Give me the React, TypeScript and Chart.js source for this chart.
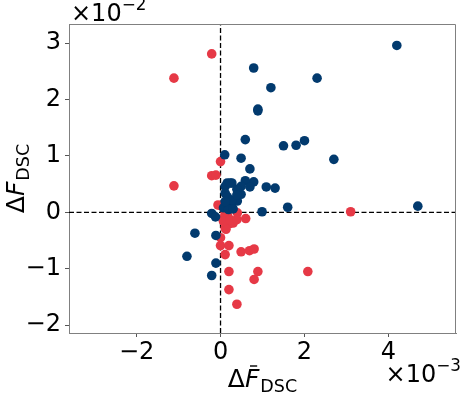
import React, { useEffect, useRef } from "react";
import { Chart, registerables } from "chart.js";

Chart.register(...registerables);

// x values in units of 1e-3, y values in units of 1e-2
const navyX = [4.20, 0.79, 2.30, 1.20, 0.89, 0.89, 0.59, 1.50, 1.80, 2.00, 0.10, 0.49, 2.70, 0.70, 0.79, 1.09, 1.30, 0.59, 0.70, 0.49, 0.49, 0.39, 0.40, 0.27, 0.16, 0.11, 0.11, 0.18, 0.11, 0.27, 0.99, 1.60, 4.70, -0.21, -0.12, -0.61, -0.11, -0.80, -0.11, -0.21, 0.27, 0.07, 0.19, 0.30, 0.16, 0.39, 0.11, 0.23];
const navyY = [2.96, 2.56, 2.38, 2.21, 1.83, 1.80, 1.29, 1.18, 1.19, 1.27, 1.02, 0.96, 0.94, 0.77, 0.54, 0.45, 0.43, 0.56, 0.45, 0.46, 0.32, 0.41, 0.20, 0.52, 0.52, 0.46, 0.34, 0.22, 0.10, 0.08, 0.01, 0.09, 0.11, -0.02, -0.08, -0.37, -0.41, -0.78, -0.90, -1.12, 0.22, 0.08, 0.05, 0.06, 0.28, 0.31, 0.19, 0.52];

const redX = [-0.21, -1.11, 3.10, 0.00, -0.21, -0.11, -1.11, 0.00, -0.06, 0.40, 0.60, 0.11, 0.16, 0.07, 0.16, 0.30, 0.11, 0.00, 0.00, 0.20, 0.11, 0.49, 0.69, 0.80, 0.20, 0.89, 0.80, 2.08, 0.20, 0.39, 0.22, 0.13, 0.07, 0.23, 0.39];
const redY = [2.81, 2.38, 0.01, 0.90, 0.65, 0.66, 0.47, 0.12, 0.13, -0.01, -0.11, -0.01, -0.04, -0.10, -0.18, -0.19, -0.28, -0.45, -0.59, -0.59, -0.75, -0.70, -0.68, -0.65, -1.05, -1.05, -1.19, -1.05, -1.37, -1.63, -0.20, -0.30, -0.16, -0.13, -0.13];

const xTicks = [-2, 0, 2, 4];
const yTicks = [-2, -1, 0, 1, 2, 3];
const xRange = [-3.61, 5.61];
const yRange = [-2.14, 3.34];
const xOffsetExp = "\u22123";
const yOffsetExp = "\u22122";

const NAVY = "#023a6e";
const RED = "#e63946";
const FONT = "'DejaVu Sans', sans-serif";
const TICK_SIZE = 24;
const LABEL_SIZE = 25;

const fmt = (v: number | string) => {
  const n = Number(v);
  return n < 0 ? "\u2212" + Math.abs(n) : String(n);
};

function drawMathLabel(ctx: CanvasRenderingContext2D, cx: number, cy: number, rotate: boolean, bar: boolean) {
  const S = LABEL_SIZE;
  const sub = S * 0.7;
  ctx.save();
  ctx.translate(cx, cy);
  if (rotate) ctx.rotate(-Math.PI / 2);
  ctx.fillStyle = "#000";
  ctx.textBaseline = "alphabetic";
  ctx.textAlign = "left";
  ctx.font = `${S}px ${FONT}`;
  const wD = ctx.measureText("\u0394").width;
  ctx.font = `italic ${S}px ${FONT}`;
  const wF = ctx.measureText("F").width;
  ctx.font = `${sub}px ${FONT}`;
  const wS = ctx.measureText("DSC").width;
  const total = wD + wF + 1 + wS;
  let x = -total / 2;
  ctx.font = `${S}px ${FONT}`;
  ctx.fillText("\u0394", x, 0);
  x += wD;
  ctx.font = `italic ${S}px ${FONT}`;
  ctx.fillText("F", x, 0);
  if (bar) {
    ctx.strokeStyle = "#000";
    ctx.lineWidth = 1.4;
    ctx.beginPath();
    const by = -S * 0.84;
    ctx.moveTo(x + wF * 0.35, by);
    ctx.lineTo(x + wF * 0.85, by);
    ctx.stroke();
  }
  x += wF + 1;
  ctx.font = `${sub}px ${FONT}`;
  ctx.fillText("DSC", x, S * 0.2);
  ctx.restore();
}

function drawOffset(ctx: CanvasRenderingContext2D, x: number, y: number, exp: string, alignRight: boolean) {
  const T = TICK_SIZE;
  const sup = T * 0.7;
  ctx.save();
  ctx.fillStyle = "#000";
  ctx.textBaseline = "alphabetic";
  ctx.textAlign = "left";
  ctx.font = `${T}px ${FONT}`;
  const w1 = ctx.measureText("\u00d710").width;
  ctx.font = `${sup}px ${FONT}`;
  const w2 = ctx.measureText(exp).width;
  let sx = alignRight ? x - (w1 + w2) : x;
  ctx.font = `${T}px ${FONT}`;
  ctx.fillText("\u00d710", sx, y);
  ctx.font = `${sup}px ${FONT}`;
  ctx.fillText(exp, sx + w1, y - T * 0.45);
  ctx.restore();
}

const decorPlugin = {
  id: "decor",
  beforeDatasetsDraw(chart: any) {
    const { ctx, chartArea, scales } = chart;
    const x0 = scales.x.getPixelForValue(0);
    const y0 = scales.y.getPixelForValue(0);
    ctx.save();
    ctx.strokeStyle = "#000";
    ctx.lineWidth = 1.3;
    ctx.setLineDash([5, 2.5]);
    ctx.beginPath();
    ctx.moveTo(chartArea.left, y0);
    ctx.lineTo(chartArea.right, y0);
    ctx.moveTo(x0, chartArea.bottom);
    ctx.lineTo(x0, chartArea.top);
    ctx.stroke();
    ctx.restore();
  },
  afterDraw(chart: any) {
    const { ctx, chartArea } = chart;
    ctx.save();
    ctx.strokeStyle = "#808080";
    ctx.lineWidth = 1;
    ctx.beginPath();
    ctx.moveTo(Math.round(chartArea.left) + 0.5, Math.round(chartArea.top) + 0.5);
    ctx.lineTo(Math.round(chartArea.right) - 0.5, Math.round(chartArea.top) + 0.5);
    ctx.lineTo(Math.round(chartArea.right) - 0.5, Math.round(chartArea.bottom));
    ctx.stroke();
    ctx.restore();
    const cxm = (chartArea.left + chartArea.right) / 2;
    const cym = (chartArea.top + chartArea.bottom) / 2;
    drawMathLabel(ctx, cxm, 387, false, true);
    drawMathLabel(ctx, 24, cym, true, false);
    drawOffset(ctx, chartArea.left + 2, 21, yOffsetExp, false);
    drawOffset(ctx, 461, 382, xOffsetExp, true);
  },
};

export default function App() {
  const ref = useRef<HTMLCanvasElement | null>(null);
  useEffect(() => {
    if (!ref.current) return;
    const tickFont = { family: FONT, size: TICK_SIZE };
    const chart = new Chart(ref.current, {
      type: "scatter",
      data: {
        datasets: [
          {
            label: "navy",
            data: navyX.map((x, i) => ({ x, y: navyY[i] })),
            backgroundColor: NAVY,
            borderWidth: 0,
            pointRadius: 4.8,
          },
          {
            label: "red",
            data: redX.map((x, i) => ({ x, y: redY[i] })),
            backgroundColor: RED,
            borderWidth: 0,
            pointRadius: 4.8,
          },
        ],
      },
      options: {
        animation: false,
        responsive: false,
        maintainAspectRatio: false,
        layout: { padding: { left: 0, right: 5, top: 24, bottom: 0 } },
        plugins: { legend: { display: false }, tooltip: { enabled: false } },
        scales: {
          x: {
            type: "linear",
            min: xRange[0],
            max: xRange[1],
            afterBuildTicks: (s: any) => {
              s.ticks = xTicks.map((v) => ({ value: v }));
            },
            afterFit: (s: any) => {
              s.height = 63;
            },
            ticks: { callback: fmt, font: tickFont, color: "#000", padding: 1, maxRotation: 0, autoSkip: false },
            grid: { drawOnChartArea: false, drawTicks: true, tickLength: 4, tickColor: "#555" },
            border: { color: "#808080", width: 1 },
          },
          y: {
            type: "linear",
            min: yRange[0],
            max: yRange[1],
            afterBuildTicks: (s: any) => {
              s.ticks = yTicks.map((v) => ({ value: v }));
            },
            afterFit: (s: any) => {
              s.width = 69;
            },
            ticks: { callback: fmt, font: tickFont, color: "#000", padding: 4, autoSkip: false },
            grid: { drawOnChartArea: false, drawTicks: true, tickLength: 4, tickColor: "#555" },
            border: { color: "#808080", width: 1 },
          },
        },
      },
      plugins: [decorPlugin],
    } as any);
    return () => chart.destroy();
  }, []);
  return (
    <div style={{ position: "absolute", left: 0, top: 0, width: 461, height: 396, background: "#fff" }}>
      <canvas ref={ref} width={461} height={396} />
    </div>
  );
}
